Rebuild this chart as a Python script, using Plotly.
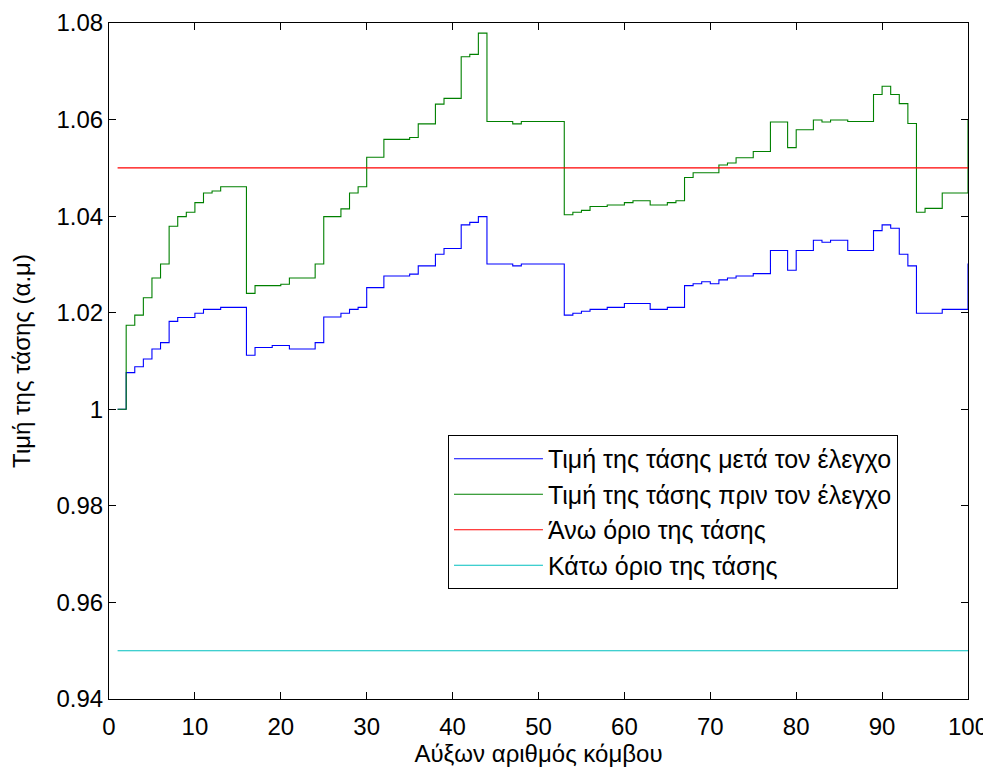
import plotly.graph_objects as go

nodes = list(range(1, 101))

v_before = [
    1.0000, 1.0174, 1.0195, 1.0231, 1.0272, 1.0301, 1.0379, 1.0399, 1.0408, 1.0428,
    1.0448, 1.0452, 1.0461, 1.0461, 1.0461, 1.0240, 1.0256, 1.0256, 1.0256, 1.0259,
    1.0272, 1.0272, 1.0272, 1.0301, 1.0399, 1.0399, 1.0415, 1.0448, 1.0461, 1.0522,
    1.0522, 1.0559, 1.0559, 1.0559, 1.0563, 1.0591, 1.0591, 1.0632, 1.0644, 1.0644,
    1.0730, 1.0735, 1.0779, 1.0596, 1.0596, 1.0596, 1.0591, 1.0596, 1.0596, 1.0596,
    1.0596, 1.0596, 1.0403, 1.0408, 1.0412, 1.0420, 1.0420, 1.0423, 1.0423, 1.0428,
    1.0432, 1.0432, 1.0423, 1.0423, 1.0428, 1.0432, 1.0480, 1.0490, 1.0490, 1.0490,
    1.0506, 1.0510, 1.0521, 1.0521, 1.0534, 1.0534, 1.0595, 1.0595, 1.0542, 1.0579,
    1.0579, 1.0599, 1.0595, 1.0599, 1.0599, 1.0596, 1.0596, 1.0596, 1.0652, 1.0669,
    1.0652, 1.0633, 1.0592, 1.0408, 1.0416, 1.0416, 1.0448, 1.0448, 1.0448, 1.0599,
]

v_after = [
    1.0000, 1.0076, 1.0088, 1.0104, 1.0125, 1.0138, 1.0182, 1.0190, 1.0190, 1.0199,
    1.0207, 1.0207, 1.0211, 1.0211, 1.0211, 1.0112, 1.0128, 1.0128, 1.0132, 1.0132,
    1.0125, 1.0125, 1.0125, 1.0138, 1.0191, 1.0191, 1.0199, 1.0207, 1.0211, 1.0252,
    1.0252, 1.0276, 1.0276, 1.0276, 1.0280, 1.0297, 1.0297, 1.0321, 1.0333, 1.0333,
    1.0382, 1.0387, 1.0399, 1.0301, 1.0301, 1.0301, 1.0297, 1.0301, 1.0301, 1.0301,
    1.0301, 1.0301, 1.0195, 1.0199, 1.0203, 1.0207, 1.0207, 1.0211, 1.0211, 1.0219,
    1.0219, 1.0219, 1.0207, 1.0207, 1.0211, 1.0211, 1.0256, 1.0260, 1.0264, 1.0260,
    1.0268, 1.0272, 1.0276, 1.0276, 1.0281, 1.0281, 1.0329, 1.0329, 1.0288, 1.0329,
    1.0329, 1.0350, 1.0346, 1.0350, 1.0350, 1.0329, 1.0329, 1.0329, 1.0370, 1.0382,
    1.0375, 1.0321, 1.0297, 1.0199, 1.0199, 1.0199, 1.0207, 1.0207, 1.0207, 1.0302,
]

upper_limit = 1.05
lower_limit = 0.95
limit_x = [1, 100]

names = [
    "Τιμή της τάσης μετά τον έλεγχο",
    "Τιμή της τάσης πριν τον έλεγχο",
    "Άνω όριο της τάσης",
    "Κάτω όριο της τάσης",
]

x_ticks = list(range(0, 101, 10))
y_ticks = [0.94, 0.96, 0.98, 1.00, 1.02, 1.04, 1.06, 1.08]
y_tick_text = ["0.94", "0.96", "0.98", "1", "1.02", "1.04", "1.06", "1.08"]

FONT = "Liberation Sans, Arial, sans-serif"

fig = go.Figure()
fig.add_trace(go.Scatter(x=nodes, y=v_after, mode="lines", line_shape="hv",
                         line=dict(color="rgb(0,0,255)", width=1.1), name=names[0], legendgroup="a"))
fig.add_trace(go.Scatter(x=nodes, y=v_before, mode="lines", line_shape="hv",
                         line=dict(color="rgb(0,128,0)", width=1.1), name=names[1], legendgroup="b"))
fig.add_trace(go.Scatter(x=limit_x, y=[upper_limit] * 2, mode="lines",
                         line=dict(color="rgb(255,0,0)", width=1.1), name=names[2], legendgroup="c"))
fig.add_trace(go.Scatter(x=limit_x, y=[lower_limit] * 2, mode="lines",
                         line=dict(color="rgb(0,191,191)", width=1.1), name=names[3], legendgroup="d"))

axis_common = dict(
    showgrid=False, zeroline=False, showline=True, linecolor="black", linewidth=1,
    mirror="ticks", ticks="inside", ticklen=7, tickcolor="black", tickwidth=1,
    tickfont=dict(family=FONT, size=24, color="black"), automargin=False,
)

# the page body has an 8px default margin, so the figure is made 8px smaller
fig.update_layout(
    width=983, height=763,
    margin=dict(l=101, r=23, t=15, b=72),
    paper_bgcolor="white", plot_bgcolor="white",
    font=dict(family=FONT, color="black"),
    xaxis=dict(range=[0, 100], tickvals=x_ticks, ticklabelstandoff=6,
               title=dict(text="Αύξων αριθμός κόμβου", font=dict(family=FONT, size=24), standoff=0),
               **axis_common),
    yaxis=dict(range=[0.94, 1.08], tickvals=y_ticks, ticktext=y_tick_text,
               title=dict(text="Τιμή της τάσης (α.μ)", font=dict(family=FONT, size=24), standoff=23),
               **axis_common),
    legend=dict(x=0.3946, y=0.3906, xanchor="left", yanchor="top",
                bgcolor="white", bordercolor="black", borderwidth=1,
                font=dict(family=FONT, size=25, color="black"),
                itemwidth=89, tracegroupgap=5, traceorder="normal"),
    showlegend=True,
)

fig.write_html("out.html")
